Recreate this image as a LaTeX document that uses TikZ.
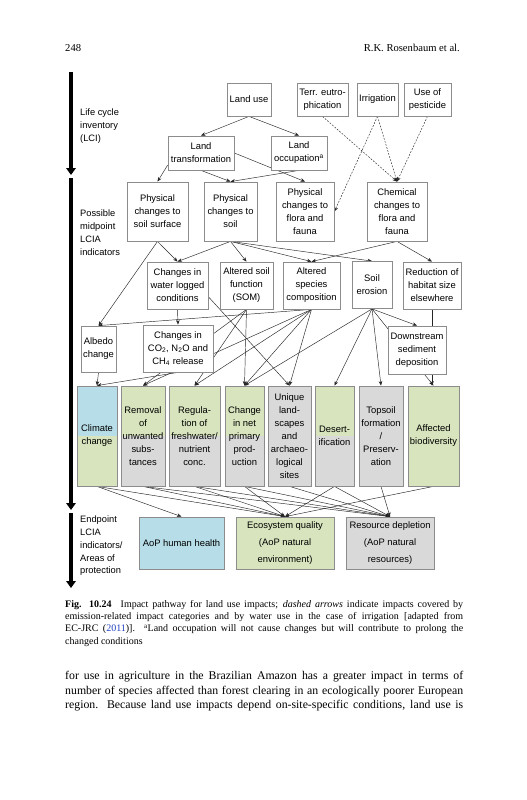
\documentclass[tikz,border=0pt]{standalone}
\usepackage{fontspec}
\setmainfont{Liberation Serif}
\newfontfamily\arialf{Liberation Sans}
\usetikzlibrary{arrows.meta,calc}
\pgfdeclarelayer{bg}
\pgfdeclarelayer{conn}
\pgfsetlayers{bg,conn,main}
\definecolor{bgray}{HTML}{8C8C8C}
\definecolor{fblue}{HTML}{B7DEE8}
\definecolor{fgreen}{HTML}{D7E4BD}
\definecolor{fgray}{HTML}{D9D9D9}
\definecolor{lnk}{HTML}{262626}
\definecolor{citeblue}{HTML}{2040C0}
\begin{document}
\begin{tikzpicture}[x=1pt,y=-1pt,
 box/.style={draw=bgray,line width=0.8pt,fill=white,align=center,inner sep=0.5pt,font=\arialf\fontsize{9.4}{13}\selectfont},
 lbl/.style={anchor=north west,align=left,inner sep=0pt,font=\arialf\fontsize{9.3}{12.7}\selectfont},
 arr/.style={draw=lnk,line width=0.45pt,-{Stealth[length=4.5pt,width=3.6pt]}},
 darr/.style={arr,dash pattern=on 1.8pt off 1.4pt},
 axisarr/.style={line width=3.6pt,-{Triangle[length=7pt,width=9.5pt]}},
 topblue/.style={path picture={\fill[fblue] (path picture bounding box.north west) rectangle (path picture bounding box.east);}},
 topgreen/.style={path picture={\fill[fgreen] (path picture bounding box.north west) rectangle (path picture bounding box.east);}}
]
\begin{pgfonlayer}{bg}
\useasboundingbox[fill=white] (0,0) rectangle (527,800);
\end{pgfonlayer}

% header
\node[anchor=base west,inner sep=0pt,font=\fontsize{10.6}{12}\selectfont] (pg) at (65,51.5) {248};
\node[anchor=base east,inner sep=0pt,font=\fontsize{10.6}{12}\selectfont] (au) at (460,51.5) {R.K. Rosenbaum et al.};

% axis arrows
\coordinate (a1s) at (71,72);
\coordinate (a1e) at (71,175);
\coordinate (a2s) at (71,178);
\coordinate (a2e) at (71,510);
\coordinate (a3s) at (71,513);
\coordinate (a3e) at (71,588);
\draw[axisarr] (a1s) -- (a1e);
\draw[axisarr] (a2s) -- (a2e);
\draw[axisarr] (a3s) -- (a3e);

\node[lbl] (l1) at (80,109) {Life cycle\\inventory\\(LCI)};
\node[lbl] (l2) at (80,210) {Possible\\midpoint\\LCIA\\indicators};
\node[lbl] (l3) at (80,516) {Endpoint\\LCIA\\indicators/\\Areas of\\protection};

% row 1
\node[box,minimum width=44pt,minimum height=33pt] (landuse) at (249,99.5) {Land use};
\node[box,minimum width=51pt,minimum height=33pt] (terr) at (322.5,99.5) {Terr. eutro-\\phication};
\node[box,minimum width=41pt,minimum height=33pt] (irrig) at (377.5,99.5) {Irrigation};
\node[box,minimum width=47pt,minimum height=33pt] (pest) at (427.5,99.5) {Use of\\pesticide};
% row 2
\node[box,minimum width=66pt,minimum height=34pt] (ltrans) at (201,153) {Land\\transformation};
\node[box,minimum width=56pt,minimum height=34pt] (locc) at (299,153) {Land\\occupation\textsuperscript{a}};
% row 3
\node[box,minimum width=61pt,minimum height=59pt] (pss) at (157.5,211.5) {Physical\\changes to\\soil surface};
\node[box,minimum width=53pt,minimum height=59pt] (ps) at (230.5,211.5) {Physical\\changes to\\soil};
\node[box,minimum width=58pt,minimum height=59pt] (pff) at (305,211.5) {Physical\\changes to\\flora and\\fauna};
\node[box,minimum width=60pt,minimum height=59pt] (cff) at (397,211.5) {Chemical\\changes to\\flora and\\fauna};
% row 4
\node[box,minimum width=61pt,minimum height=47pt] (wl) at (177.5,285.5) {Changes in\\water logged\\conditions};
\node[box,minimum width=53pt,minimum height=47pt] (som) at (246.5,285.5) {Altered soil\\function\\(SOM)};
\node[box,minimum width=57pt,minimum height=47pt] (asc) at (311.5,285.5) {Altered\\species\\composition};
\node[box,minimum width=40pt,minimum height=47pt] (eros) at (372,285) {Soil\\erosion};
\node[box,minimum width=58pt,minimum height=47pt] (red) at (432,285.5) {Reduction of\\habitat size\\elsewhere};
% row 5
\node[box,minimum width=35pt,minimum height=46pt] (alb) at (98.5,349) {Albedo\\change};
\node[box,minimum width=70pt,minimum height=47pt] (co2) at (178,348.5) {Changes in\\CO\textsubscript{2}, N\textsubscript{2}O and\\CH\textsubscript{4} release};
\node[box,minimum width=58pt,minimum height=48pt] (down) at (417,350) {Downstream\\sediment\\deposition};
% row 6
\node[box,minimum width=40pt,minimum height=100pt,fill=fgreen,topblue] (cc) at (97,436) {Climate\\change};
\node[box,minimum width=44pt,minimum height=100pt,fill=fgray,topgreen] (rem) at (143,436) {Removal\\of\\unwanted\\subs-\\tances};
\node[box,minimum width=51pt,minimum height=100pt,fill=fgray,topgreen] (reg) at (194.5,436) {Regula-\\tion of\\freshwater/\\nutrient\\conc.};
\node[box,minimum width=39pt,minimum height=100pt,fill=fgray,topgreen] (npp) at (244.5,436) {Change\\in net\\primary\\prod-\\uction};
\node[box,minimum width=43pt,minimum height=100pt,fill=fgray] (uni) at (289.5,436) {Unique\\land-\\scapes\\and\\archaeo-\\logical\\sites};
\node[box,minimum width=39pt,minimum height=100pt,fill=fgray,topgreen] (des) at (334.5,436) {Desert-\\ification};
\node[box,minimum width=44pt,minimum height=100pt,fill=fgray] (top) at (381,436) {Topsoil\\formation\\/\\Preserv-\\ation};
\node[box,minimum width=51pt,minimum height=100pt,fill=fgreen] (aff) at (433.5,436) {Affected\\biodiversity};
% row 7
\node[box,minimum width=85pt,minimum height=52pt,fill=fblue] (hh) at (181.5,543) {AoP human health};
\node[box,minimum width=98pt,minimum height=52pt,fill=fgreen,font=\arialf\fontsize{9.4}{17}\selectfont] (eq) at (285,543) {Ecosystem quality\\(AoP natural\\environment)};
\node[box,minimum width=88pt,minimum height=52pt,fill=fgray,font=\arialf\fontsize{9.4}{17}\selectfont] (rd) at (390,543) {Resource depletion\\(AoP natural\\resources)};

\begin{pgfonlayer}{conn}
% connectors level 1-2
\draw[arr] (landuse.south) -- (ltrans.north);
\draw[arr] (landuse.south) -- (locc.north);
\draw[darr] (terr.south) -- (cff.north);
\draw[darr] (irrig.south) -- (cff.north);
\draw[darr] (pest.south) -- (cff.north);
\draw[darr] (irrig.south) -- (pff.east);
% level 2-3
\draw[arr] (ltrans.200) -- (pss.north);
\draw[arr] (ltrans.south) -- (ps.north);
\draw[arr] (ltrans.east) -- (pff.north);
\draw[arr] (locc.south) -- (ps.north);
% level 3-4
\draw[arr] (pss.south) -- (alb.north);
\draw[arr] (pss.south) -- (wl.north);
\draw[arr] (ps.south) -- (wl.north);
\draw[arr] (ps.south) -- (som.north);
\draw[arr] (ps.south) -- (asc.north);
\draw[arr] (ps.south) -- (eros.north);
\draw[arr] (cff.south) -- (asc.north);
\draw[arr] (cff.south) -- (red.north);
% level 4-6
\draw[arr] (wl.south) -- (co2.north);
\draw[arr] (wl.-20) -- (uni.north);
\draw[arr] (som.south) -- (rem.north);
\draw[arr] (som.south) -- (reg.north);
\draw[arr] (som.south) -- (npp.north);
\draw[arr] (asc.south) -- (alb.north);
\draw[arr] (asc.south) -- (rem.north);
\draw[arr] (asc.south) -- (reg.north);
\draw[arr] (asc.south) -- (npp.north);
\draw[arr] (asc.south) -- (uni.north);
\draw[arr] (eros.south) -- (down.north);
\draw[arr] (eros.south) -- (des.north);
\draw[arr] (eros.south) -- (top.north);
\draw[arr] (eros.south) -- (npp.north);
\draw[arr] (eros.south) -- (aff.north);
\draw[arr] (red.south) -- (red.south |- aff.north);
\draw[arr] (alb.south) -- (cc.north);
\draw[arr] (co2.south) -- (cc.north);
% level 6-7
\draw[arr] (cc.south) -- (hh.north);
\draw[arr] (cc.south) -- (eq.north);
\draw[arr] (rem.south) -- (eq.north);
\draw[arr] (rem.south) -- (rd.north);
\draw[arr] (reg.south) -- (eq.north);
\draw[arr] (reg.south) -- (rd.north);
\draw[arr] (npp.south) -- (eq.north);
\draw[arr] (npp.south) -- (rd.north);
\draw[arr] (uni.south) -- (rd.north);
\draw[arr] (des.south) -- (eq.north);
\draw[arr] (des.south) -- (rd.north);
\draw[arr] (top.south) -- (rd.north);
\draw[arr] (aff.south) -- (eq.north);
\end{pgfonlayer}

% caption
\node[anchor=north west,inner sep=0pt,align=left,font=\fontsize{10}{12.1}\selectfont] (cap) at (65,600.5) {%
\makebox[398pt][s]{\textbf{Fig. 10.24}\hspace{0.5em} Impact pathway for land use impacts; \textit{dashed arrows} indicate impacts covered by}\\
\makebox[398pt][s]{emission-related impact categories and by water use in the case of irrigation [adapted from}\\
\makebox[398pt][s]{EC-JRC (\textcolor{citeblue}{2011})]. \textsuperscript{a}Land occupation will not cause changes but will contribute to prolong the}\\
changed conditions};
% body
\node[anchor=north west,inner sep=0pt,align=left,font=\fontsize{11.8}{14.5}\selectfont] (body) at (65,671) {%
\makebox[398pt][s]{for use in agriculture in the Brazilian Amazon has a greater impact in terms of}\\
\makebox[398pt][s]{number of species affected than forest clearing in an ecologically poorer European}\\
\makebox[398pt][s]{region. Because land use impacts depend on-site-specific conditions, land use is}};
\end{tikzpicture}
\end{document}
